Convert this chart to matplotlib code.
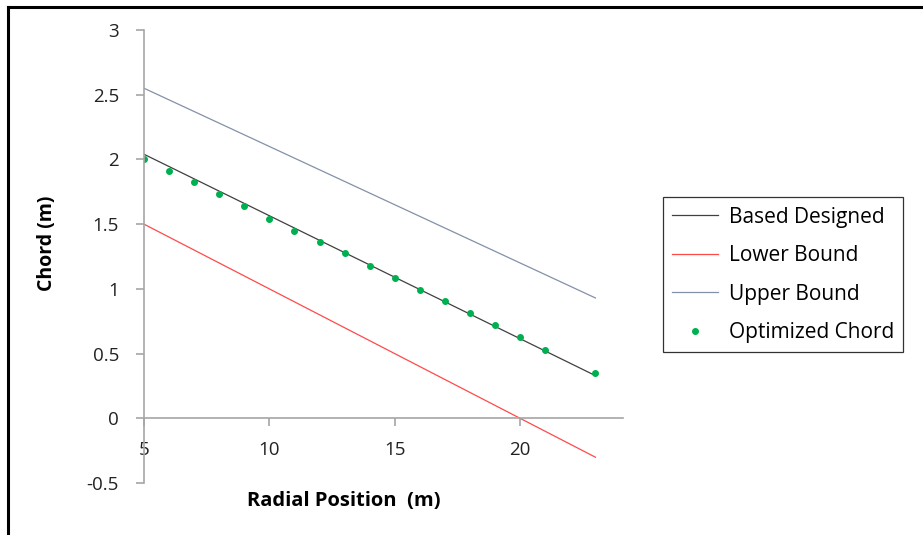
import numpy as np
import matplotlib
import matplotlib.pyplot as plt
from matplotlib.lines import Line2D

matplotlib.use('agg')
plt.rcParams['font.family'] = ['Open Sans', 'DejaVu Sans']

# radial positions (m)
radius = [5, 6, 7, 8, 9, 10, 11, 12, 13, 14, 15, 16, 17, 18, 19, 20, 21, 22, 23]
based_designed = [2.04, 1.945, 1.85, 1.755, 1.66, 1.565, 1.47, 1.375, 1.28, 1.185,
                  1.09, 0.995, 0.90, 0.805, 0.71, 0.615, 0.52, 0.425, 0.33]
lower_bound = [1.5, 1.4, 1.3, 1.2, 1.1, 1.0, 0.9, 0.8, 0.7, 0.6,
               0.5, 0.4, 0.3, 0.2, 0.1, 0.0, -0.1, -0.2, -0.3]
upper_bound = [2.55, 2.46, 2.37, 2.28, 2.19, 2.10, 2.01, 1.92, 1.83, 1.74,
               1.65, 1.56, 1.47, 1.38, 1.29, 1.20, 1.11, 1.02, 0.93]

opt_radius = [5, 6, 7, 8, 9, 10, 11, 12, 13, 14, 15, 16, 17, 18, 19, 20, 21, 23]
opt_chord = [2.0, 1.91, 1.825, 1.73, 1.64, 1.54, 1.45, 1.365, 1.275, 1.175,
             1.085, 0.995, 0.905, 0.81, 0.72, 0.63, 0.53, 0.35]

xticks = [5, 10, 15, 20]
yticks = [-0.5, 0, 0.5, 1, 1.5, 2, 2.5, 3]
ytick_labels = ['-0.5', '0', '0.5', '1', '1.5', '2', '2.5', '3']

fig = plt.figure(figsize=(9.23, 5.35), dpi=100)
ax = fig.add_axes([0.156, 0.097, 0.519, 0.847])

ax.plot(radius, based_designed, color='#404040', lw=0.9, label='Based Designed')
ax.plot(radius, lower_bound, color='#ff4a4a', lw=0.9, label='Lower Bound')
ax.plot(radius, upper_bound, color='#8391a8', lw=0.9, label='Upper Bound')
ax.plot(opt_radius, opt_chord, ls='none', marker='o', ms=4, color='#00b050',
        label='Optimized Chord')

ax.set_xlim(5, 24.1)
ax.set_ylim(-0.5, 3)
ax.set_xticks(xticks)
ax.set_xticklabels([str(t) for t in xticks])
ax.set_yticks(yticks)
ax.set_yticklabels(ytick_labels)

for s in ['top', 'right']:
    ax.spines[s].set_visible(False)
ax.spines['bottom'].set_position(('data', 0))
ax.spines['left'].set_position(('data', 5))
for s in ['bottom', 'left']:
    ax.spines[s].set_color('#a6a6a6')
    ax.spines[s].set_linewidth(1.2)

ax.tick_params(axis='both', colors='#a6a6a6', labelcolor='#222222', labelsize=13.5,
               length=6, width=1.2, direction='out')
ax.tick_params(axis='y', pad=12)
ax.tick_params(axis='x', pad=10)

ax.set_ylabel('Chord (m)', fontsize=14, fontweight='bold')
ax.yaxis.set_label_coords(-0.182, 0.53)
fig.text(0.372, 0.064, 'Radial Position  (m)', fontsize=14.5, fontweight='bold',
         ha='center', va='center')

leg = ax.legend(loc='upper left', bbox_to_anchor=(1.0835, 0.631), fontsize=15,
                frameon=True, fancybox=False, edgecolor='black', handlelength=2.2,
                labelspacing=0.84, borderpad=0.45, handletextpad=0.5,
                borderaxespad=0)
leg.get_frame().set_linewidth(0.9)

# black frame along top and left of the picture
fig.add_artist(Line2D([0.0087, 0.0087], [0.0, 0.987], color='black', lw=2.2,
                      transform=fig.transFigure))
fig.add_artist(Line2D([0.0087, 1.0], [0.987, 0.987], color='black', lw=2.2,
                      transform=fig.transFigure))

plt.savefig('out.png', dpi=100)
